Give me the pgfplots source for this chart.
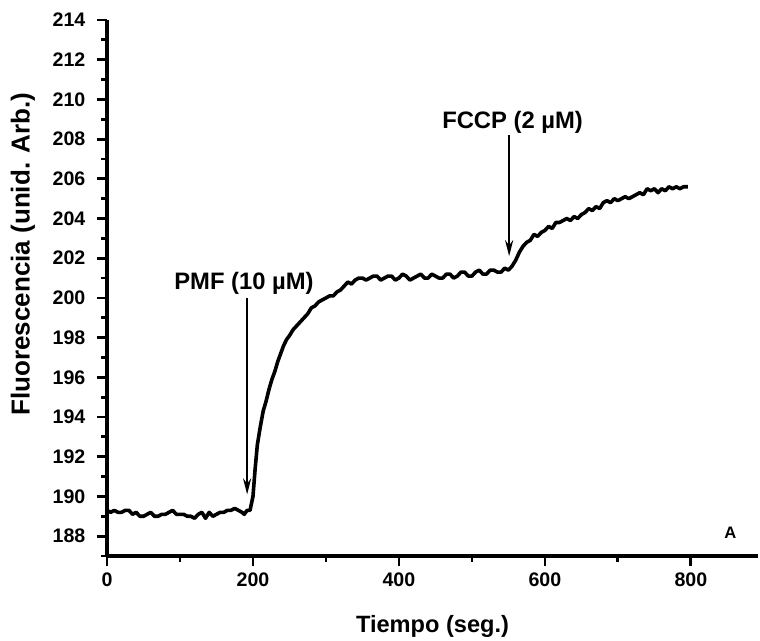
\documentclass[border=0pt]{standalone}
\usepackage{fontspec}
\setmainfont{Liberation Sans}
\usepackage{pgfplots}
\pgfplotsset{compat=1.18}
\usetikzlibrary{arrows.meta}

\begin{document}
\begin{tikzpicture}
\begin{axis}[
    scale only axis,
    width=325.5pt, height=268pt,
    xmin=0, xmax=892,
    ymin=187, ymax=214,
    axis lines=left,
    axis line style={-, line width=1.6pt},
    xtick={0,200,...,800},
    minor xtick={100,300,...,700},
    ytick={188,190,...,214},
    minor ytick={187,189,...,213},
    tick align=outside,
    tick style={line width=1.4pt, black},
    major tick length=5pt,
    minor tick length=3pt,
    /pgf/number format/assume math mode=true,
    tick label style={font=\fontsize{9.8}{12}\selectfont\bfseries},
    yticklabel style={xshift=-2.3pt},
    xlabel={Tiempo (seg.)},
    ylabel={Fluorescencia (unid. Arb.)},
    xlabel style={font=\fontsize{11.8}{14}\selectfont\bfseries,
                  at={(axis description cs:0.5,0)}, anchor=center, yshift=-35pt},
    ylabel style={font=\fontsize{13}{15}\selectfont\bfseries,
                  at={(axis description cs:0,0.5)}, anchor=center, xshift=17pt, yshift=42pt},
    clip=false,
]
% trace
\addplot[black, line width=1.8pt, line join=round] coordinates {
(0,189.3) (5,189.2) (10,189.3) (15,189.2) (20,189.2) (25,189.3) (30,189.3)
(35,189.1) (40,189.2) (45,189.0) (50,189.0) (55,189.1) (60,189.2) (65,189.0)
(70,189.0) (75,189.1) (80,189.1) (85,189.2) (90,189.3) (95,189.1) (100,189.1)
(105,189.1) (110,189.0) (115,189.0) (120,188.9) (125,189.1) (130,189.2)
(135,188.9) (140,189.2) (145,189.0) (150,189.1) (155,189.2) (160,189.2)
(165,189.3) (170,189.3) (175,189.4) (180,189.3) (185,189.2) (188,189.1)
(192,189.3) (196,189.3) (200,190.0) (203,191.4) (206,192.6) (210,193.5)
(214,194.3) (218,194.8) (222,195.4) (226,195.9) (230,196.3) (234,196.8)
(238,197.2) (242,197.6) (246,197.9) (250,198.1) (255,198.4) (260,198.6)
(265,198.8) (270,199.0) (275,199.2) (280,199.5) (285,199.6) (290,199.8)
(295,199.9) (300,200.0) (305,200.1) (310,200.1) (315,200.3) (320,200.4)
(325,200.6) (330,200.8) (335,200.7) (340,200.9) (345,201.0) (350,201.0)
(355,200.9) (360,201.0) (365,201.1) (370,201.1) (375,200.9) (380,201.0)
(385,201.1) (390,201.1) (395,200.9) (400,201.0) (405,201.2) (410,201.1)
(415,200.9) (420,201.0) (425,201.1) (430,201.2) (435,201.0) (440,201.0)
(445,201.2) (450,201.1) (455,201.0) (460,201.0) (465,201.2) (470,201.2)
(475,201.0) (480,201.1) (485,201.3) (490,201.3) (495,201.1) (500,201.1)
(505,201.3) (510,201.4) (515,201.2) (520,201.2) (525,201.4) (530,201.4)
(535,201.3) (540,201.3) (545,201.5) (550,201.4) (555,201.6) (560,201.9)
(565,202.3) (570,202.6) (575,202.8) (580,202.9) (585,203.2) (590,203.1)
(595,203.3) (600,203.4) (605,203.6) (610,203.5) (615,203.8) (620,203.8)
(625,203.9) (630,204.0) (635,203.9) (640,204.1) (645,204.0) (650,204.2)
(655,204.3) (660,204.5) (665,204.4) (670,204.6) (675,204.5) (680,204.8)
(685,204.9) (690,204.8) (695,205.0) (700,204.9) (705,205.0) (710,205.1)
(715,205.0) (720,205.1) (725,205.2) (730,205.3) (735,205.2) (740,205.5)
(745,205.4) (750,205.5) (755,205.3) (760,205.5) (765,205.4) (770,205.6)
(775,205.5) (780,205.6) (785,205.5) (790,205.6) (796,205.6)
};
% annotations
\draw[-{Stealth[length=8pt,width=4pt]}, line width=1.3pt] (axis cs:192,200.0) -- (axis cs:192,190.1);
\node[font=\fontsize{11.9}{14}\selectfont\bfseries] at (axis cs:187.7,200.75) {PMF (10 µM)};
\draw[-{Stealth[length=8pt,width=4pt]}, line width=1.3pt] (axis cs:551,208.2) -- (axis cs:551,202.1);
\node[font=\fontsize{11.9}{14}\selectfont\bfseries] at (axis cs:555.7,208.86) {FCCP (2 µM)};
\node[font=\fontsize{8.3}{10}\selectfont\bfseries] at (axis cs:854,188.15) {A};
\end{axis}
\pgfresetboundingbox
\path[use as bounding box] ([shift={(-53.5pt,-42.5pt)}]current axis.south west)
    rectangle ([shift={(1pt,10pt)}]current axis.north east);
\end{tikzpicture}
\end{document}
